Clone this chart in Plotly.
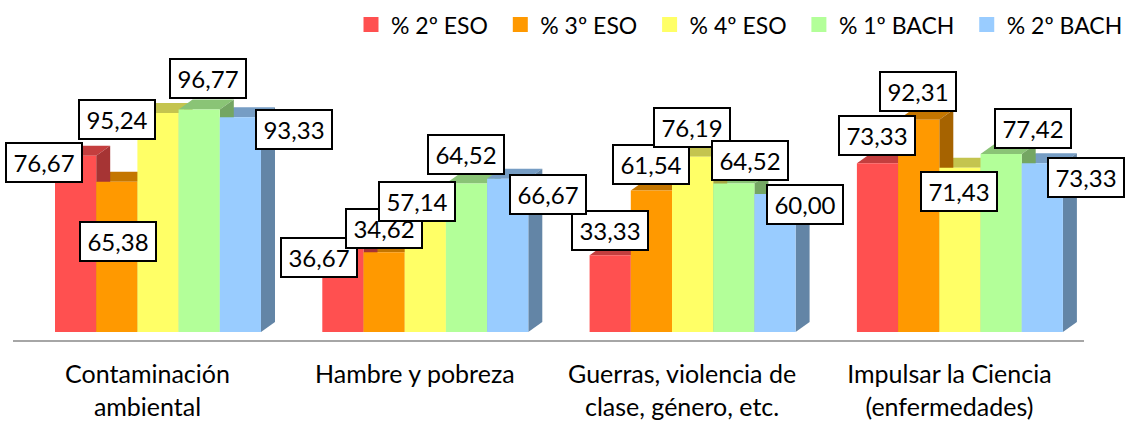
import plotly.graph_objects as go

categories = ["Contaminación<br>ambiental", "Hambre y pobreza",
              "Guerras, violencia de<br>clase, género, etc.",
              "Impulsar la Ciencia<br>(enfermedades)"]
series_names = ["% 2º ESO", "% 3º ESO", "% 4º ESO", "% 1º BACH", "% 2º BACH"]
eso2 = [76.67, 36.67, 33.33, 73.33]
eso3 = [65.38, 34.62, 61.54, 92.31]
eso4 = [95.24, 57.14, 76.19, 71.43]
bach1 = [96.77, 64.52, 64.52, 77.42]
bach2 = [93.33, 66.67, 60.00, 73.33]
series_values = [eso2, eso3, eso4, bach1, bach2]
series_colors = [(255, 80, 80), (255, 153, 0), (255, 255, 102), (179, 255, 153), (153, 204, 255)]

# label box offset from the top-centre of its bar, in pixels (right, down)
label_offsets = [
    [(-32, 7), (-24, 10), (0, -25), (-1, -28)],
    [(1, 60), (0, -24), (0, -26), (-1, -28)],
    [(-41, 7), (-8, 1), (-1, -29), (-1, 24)],
    [(9, -31), (-1, -29), (16, -23), (32, -25)],
    [(54, 12), (40, 16), (30, 10), (44, 14)],
]

W, H = 1128, 422
L, R, T, B = 13, 1128, 0, 341
AXIS_END = 1084
BASE_Y = 332
PX_PER_VAL = 2.3
GROUP_STEP = 267.3
FIRST_CENTER = 158
BAR_PX = 41.2
DEPTH_X = 14 / GROUP_STEP
DEPTH_Y = 10 / PX_PER_VAL
BAR_W = BAR_PX / GROUP_STEP
TICK_SHIFT = 10.5 / GROUP_STEP
LEGEND_PAD = "\u00a0\u200a"  # widens the gap between legend entries

x_range = [(L - FIRST_CENTER) / GROUP_STEP, (R - FIRST_CENTER) / GROUP_STEP]
y_range = [(BASE_Y - B) / PX_PER_VAL, (BASE_Y - T) / PX_PER_VAL]


def shade(c, f):
    return "rgb(%d,%d,%d)" % tuple(round(v * f) for v in c)


fig = go.Figure()

# top and side faces, shorter bars first so taller walls overlap them
for g in range(len(categories)):
    order = sorted(range(5), key=lambda s: series_values[s][g])
    for s in order:
        v = series_values[s][g]
        x0 = g + (s - 2.5) * BAR_W
        x1 = x0 + BAR_W
        fig.add_trace(go.Scatter(
            x=[x0, x0 + DEPTH_X, x1 + DEPTH_X, x1, x0],
            y=[v, v + DEPTH_Y, v + DEPTH_Y, v, v],
            mode="lines", fill="toself", line=dict(width=0),
            fillcolor=shade(series_colors[s], 0.77),
            showlegend=False, hoverinfo="skip", xaxis="x", yaxis="y"))
        fig.add_trace(go.Scatter(
            x=[x1, x1 + DEPTH_X, x1 + DEPTH_X, x1, x1],
            y=[v, v + DEPTH_Y, DEPTH_Y, 0, v],
            mode="lines", fill="toself", line=dict(width=0),
            fillcolor=shade(series_colors[s], 0.65),
            showlegend=False, hoverinfo="skip", xaxis="x", yaxis="y"))

# front faces
for s, name in enumerate(series_names):
    fig.add_trace(go.Bar(
        x=list(range(len(categories))), y=series_values[s], name=name,
        marker=dict(color=shade(series_colors[s], 1), line=dict(width=0)),
        xaxis="x", yaxis="y2", showlegend=False))

# legend keys
for s, name in enumerate(series_names):
    fig.add_trace(go.Scatter(
        x=[None], y=[None], name=name + (LEGEND_PAD if s < 4 else ""), mode="markers",
        marker=dict(symbol="square", size=15, color=shade(series_colors[s], 1)),
        xaxis="x", yaxis="y"))

annotations = []
for s in range(5):
    for g in range(len(categories)):
        dx, dy = label_offsets[s][g]
        annotations.append(dict(
            x=g + (s - 2) * BAR_W, y=series_values[s][g], xref="x", yref="y",
            text=f"{series_values[s][g]:.2f}".replace(".", ","),
            showarrow=False, xanchor="center", yanchor="middle",
            xshift=dx, yshift=-dy, width=74, height=37,
            bgcolor="white", bordercolor="#000000", borderwidth=2, borderpad=0,
            font=dict(family="Lato", size=24, color="#000000")))

fig.update_layout(
    width=W, height=H, autosize=False,
    margin=dict(l=L, r=W - R, t=T, b=H - B, pad=0),
    paper_bgcolor="white", plot_bgcolor="white",
    barmode="group", bargap=1 - 5 * BAR_W, bargroupgap=0,
    font=dict(family="Lato", color="#000000"),
    xaxis=dict(range=x_range, tickmode="array",
               tickvals=[g - TICK_SHIFT for g in range(len(categories))],
               ticktext=categories, tickfont=dict(family="Lato", size=25, color="#000000"),
               ticks="", showgrid=False, zeroline=False, showline=False,
               ticklabelstandoff=16),
    yaxis=dict(range=y_range, visible=False, showgrid=False, zeroline=False),
    yaxis2=dict(range=y_range, overlaying="y", visible=False, showgrid=False, zeroline=False),
    legend=dict(orientation="h", x=1.0, xanchor="right", y=0.991, yanchor="top",
                font=dict(family="Lato", size=23, color="#000000"),
                bgcolor="rgba(0,0,0,0)"),
    shapes=[dict(type="line", xref="x", yref="paper", y0=0, y1=0,
                 x0=x_range[0], x1=(AXIS_END - FIRST_CENTER) / GROUP_STEP,
                 line=dict(color="#A6A6A6", width=2))],
    annotations=annotations,
)

fig.write_html("out.html", config=dict(displayModeBar=False),
               post_script="document.body.style.margin='0';document.body.style.overflow='hidden';")
